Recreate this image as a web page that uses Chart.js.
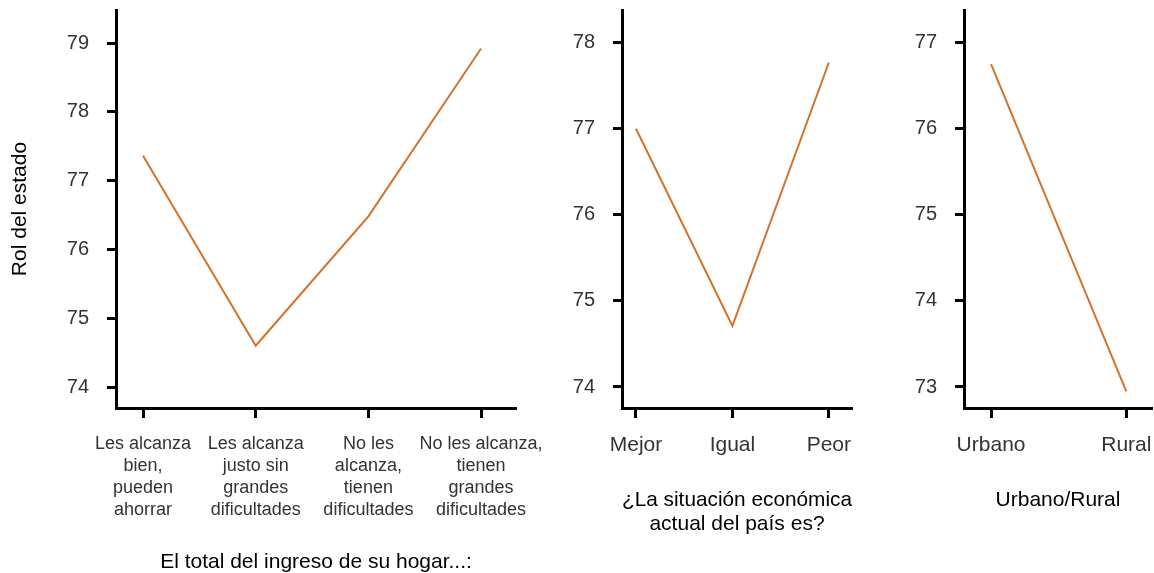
<!DOCTYPE html>
<html lang="es">
<head>
    <meta charset="UTF-8">
    <title>Rol del estado</title>
    <script src="https://cdn.jsdelivr.net/npm/chart.js"></script>
    <style>
        html, body { margin: 0; padding: 0; background: #fff; }
        .panel { position: absolute; top: 0; height: 573px; }
    </style>
</head>
<body>
    <div class="panel" style="left:0;width:560px"><canvas id="c1"></canvas></div>
    <div class="panel" style="left:560px;width:320px"><canvas id="c2"></canvas></div>
    <div class="panel" style="left:880px;width:274px"><canvas id="c3"></canvas></div>

<script>
    // panel 1: ingreso del hogar
    const ingresoCats = [
        ['Les alcanza', 'bien,', 'pueden', 'ahorrar'],
        ['Les alcanza', 'justo sin', 'grandes', 'dificultades'],
        ['No les', 'alcanza,', 'tienen', 'dificultades'],
        ['No les alcanza,', 'tienen', 'grandes', 'dificultades']
    ];
    const ingresoVals = [77.36, 74.6, 76.48, 78.92];
    const ingresoTicks = [74, 75, 76, 77, 78, 79];

    // panel 2: situacion economica
    const situacionCats = ['Mejor', 'Igual', 'Peor'];
    const situacionVals = [77.0, 74.71, 77.77];
    const situacionTicks = [74, 75, 76, 77, 78];

    // panel 3: urbano / rural
    const zonaCats = ['Urbano', 'Rural'];
    const zonaVals = [76.75, 72.95];
    const zonaTicks = [73, 74, 75, 76, 77];

    const lineColor = '#D2732B';
    const fontFam = '"Liberation Sans", Arial, sans-serif';

    function makeChart(id, cats, vals, yTicks, o) {
        const pts = vals.map((v, i) => ({ x: i, y: v }));
        return new Chart(document.getElementById(id), {
            type: 'line',
            data: {
                datasets: [{
                    data: pts,
                    borderColor: lineColor,
                    borderWidth: 2,
                    pointRadius: 0,
                    tension: 0,
                    fill: false
                }]
            },
            options: {
                responsive: true,
                maintainAspectRatio: false,
                animation: false,
                layout: { padding: o.padding },
                plugins: { legend: { display: false }, tooltip: { enabled: false } },
                scales: {
                    x: {
                        type: 'linear',
                        min: o.xMin,
                        max: o.xMax,
                        afterBuildTicks: s => { s.ticks = cats.map((c, i) => ({ value: i })); },
                        afterFit: s => {
                            s.height = o.xHeight;
                            s.paddingLeft = 0;
                            s.paddingRight = 0;
                        },
                        ticks: {
                            callback: v => cats[v],
                            color: '#333',
                            font: { family: fontFam, size: o.xFont, lineHeight: o.xLine },
                            padding: 15,
                            maxRotation: 0,
                            autoSkip: false
                        },
                        grid: {
                            drawOnChartArea: false,
                            drawTicks: true,
                            tickLength: 10,
                            tickColor: '#000',
                            tickWidth: 3
                        },
                        border: { display: true, color: '#000', width: 3 },
                        title: {
                            display: true,
                            text: o.xTitle,
                            color: '#000',
                            font: { family: fontFam, size: 21, lineHeight: o.titleLine },
                            padding: 0
                        }
                    },
                    y: {
                        min: o.yMin,
                        max: o.yMax,
                        afterBuildTicks: s => { s.ticks = yTicks.map(v => ({ value: v })); },
                        afterFit: s => {
                            s.width = o.yWidth;
                            s.paddingTop = 0;
                            s.paddingBottom = 0;
                        },
                        ticks: {
                            color: '#333',
                            font: { family: fontFam, size: 20 },
                            padding: 18
                        },
                        grid: {
                            drawOnChartArea: false,
                            drawTicks: true,
                            tickLength: 9,
                            tickColor: '#000',
                            tickWidth: 3
                        },
                        border: { display: true, color: '#000', width: 3 },
                        title: {
                            display: !!o.yTitle,
                            text: o.yTitle,
                            color: '#000',
                            font: { family: fontFam, size: 21 },
                            padding: 0
                        }
                    }
                }
            }
        });
    }

    makeChart('c1', ingresoCats, ingresoVals, ingresoTicks, {
        padding: { left: 8, right: 44, top: 10, bottom: 0 },
        xMin: -0.24, xMax: 3.31, yMin: 73.695, yMax: 79.48,
        xHeight: 165, yWidth: 108, xFont: 18, xLine: 1.22, titleLine: 1.0,
        xTitle: 'El total del ingreso de su hogar...:',
        yTitle: 'Rol del estado'
    });

    makeChart('c2', situacionCats, situacionVals, situacionTicks, {
        padding: { left: 0, right: 28, top: 10, bottom: 37 },
        xMin: -0.145, xMax: 2.24, yMin: 73.756, yMax: 78.38,
        xHeight: 128, yWidth: 62, xFont: 21, xLine: 1.2, titleLine: 1.15,
        xTitle: ['\u00bfLa situaci\u00f3n econ\u00f3mica', 'actual del pa\u00eds es?']
    });

    makeChart('c3', zonaCats, zonaVals, zonaTicks, {
        padding: { left: 0, right: 2, top: 10, bottom: 61 },
        xMin: -0.2, xMax: 1.19, yMin: 72.756, yMax: 77.38,
        xHeight: 104, yWidth: 84, xFont: 21, xLine: 1.2, titleLine: 1.15,
        xTitle: 'Urbano/Rural'
    });
</script>
</body>
</html>
